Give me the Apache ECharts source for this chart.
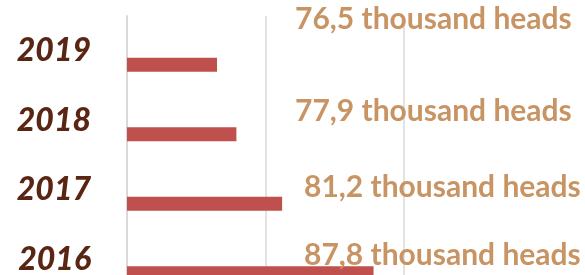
<!DOCTYPE html>
<html>
<head>
<meta charset="utf-8">
<style>html,body{margin:0;padding:0;background:#fff;overflow:hidden;}#c{width:585px;height:295px;}</style>
<script src="https://cdn.jsdelivr.net/npm/echarts@6/dist/echarts.min.js"></script>
</head>
<body>
<div id="c"></div>
<script>
const years = ['2016', '2017', '2018', '2019'];
const heads = [87.8, 81.2, 77.9, 76.5];
const headLabels = ['87,8 thousand heads', '81,2 thousand heads', '77,9 thousand heads', '76,5 thousand heads'];
const xTicks = [70, 80, 90];

// label layout nudges (px, relative to bar start / bar centre)
const labelDx = [177, 177, 168, 168];
const labelDy = [-18, -16, -23, -45];

const chart = echarts.init(document.getElementById('c'), null, {renderer: 'canvas'});
chart.setOption({
  animation: false,
  grid: {left: 127, right: 181, top: 16, bottom: 1, containLabel: false},
  xAxis: {
    type: 'value', min: xTicks[0], max: xTicks[xTicks.length - 1], interval: 10,
    axisLabel: {show: false}, axisTick: {show: false}, axisLine: {show: false},
    splitLine: {show: true, lineStyle: {color: '#D9D9D9', width: 1.5}}
  },
  yAxis: {
    type: 'category', data: years,
    axisTick: {show: false},
    axisLine: {show: true, lineStyle: {color: '#D9D9D9', width: 2}},
    axisLabel: {
      margin: 36, color: '#5A2614', fontFamily: 'Lato', fontWeight: 900,
      fontStyle: 'italic', fontSize: 32
    }
  },
  series: [
    {type: 'bar', name: 'spacer', barWidth: 14, barGap: '100%', data: []},
    {
      type: 'bar', name: 'heads', barWidth: 14, barGap: '100%',
      data: heads,
      itemStyle: {color: '#C0504D'},
      label: {
        show: true,
        formatter: p => headLabels[p.dataIndex],
        color: '#C89464', fontFamily: 'Lato', fontWeight: 'bold', fontSize: 30
      },
      labelLayout: p => ({
        x: p.rect.x + labelDx[p.dataIndex],
        y: p.rect.y + p.rect.height / 2 + labelDy[p.dataIndex],
        align: 'left', verticalAlign: 'middle'
      })
    }
  ]
});
</script>
</body>
</html>
